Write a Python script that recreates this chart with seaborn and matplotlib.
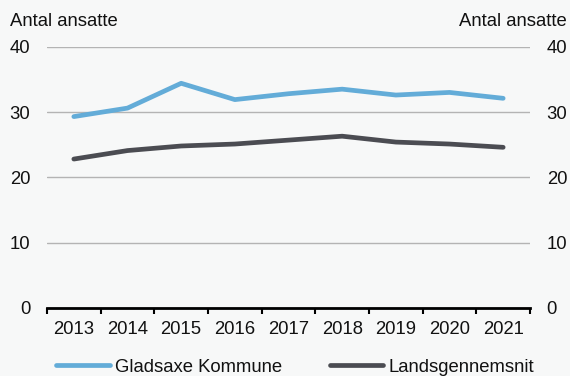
import numpy as np
import pandas as pd
import matplotlib
matplotlib.use("Agg")
import matplotlib.pyplot as plt
import seaborn as sns
from matplotlib.ticker import FixedLocator, FixedFormatter
from matplotlib.lines import Line2D

years = ["2013", "2014", "2015", "2016", "2017", "2018", "2019", "2020", "2021"]
gladsaxe = [29.3, 30.6, 34.4, 31.9, 32.8, 33.5, 32.6, 33.0, 32.1]
landsgennemsnit = [22.8, 24.1, 24.8, 25.1, 25.7, 26.3, 25.4, 25.1, 24.6]
series_names = ["Gladsaxe Kommune", "Landsgennemsnit"]
yticks = [0, 10, 20, 30, 40]
ylabel_text = "Antal ansatte"

colors = {"Gladsaxe Kommune": "#63acd8", "Landsgennemsnit": "#4b4c52"}
bg = "#f7f8f8"
FS = 13.3
LW = 3.4

sns.set_theme(style="white")
plt.rcParams["font.family"] = ["Liberation Sans", "DejaVu Sans"]
plt.rcParams["font.size"] = FS

df = pd.DataFrame({
    "pos": list(range(len(years))) * 2,
    "value": gladsaxe + landsgennemsnit,
    "series": [series_names[0]] * len(years) + [series_names[1]] * len(years),
})

fig = plt.figure(figsize=(5.7, 3.76), dpi=100, facecolor=bg)
ax = fig.add_axes([47 / 570, 1 - 308 / 376, (530 - 47) / 570, (308 - 46.7) / 376])
ax.set_facecolor(bg)

sns.lineplot(data=df, x="pos", y="value", hue="series", palette=colors,
             linewidth=LW, ax=ax, legend=False, solid_capstyle="round")

ax.set_xlim(-0.5, len(years) - 0.5)
ax.set_ylim(0, 40)
ax.set_yticks(yticks)
ax.set_yticklabels([str(t) for t in yticks])
ax.yaxis.grid(True, color="#b4b4b4", linewidth=1.0)
ax.set_axisbelow(True)
for s in ["left", "right", "top"]:
    ax.spines[s].set_visible(False)
ax.spines["bottom"].set_color("black")
ax.spines["bottom"].set_linewidth(2.0)
ax.spines["bottom"].set_zorder(5)

ax.xaxis.set_major_locator(FixedLocator(np.arange(-0.5, len(years), 1.0)))
ax.xaxis.set_major_formatter(FixedFormatter([""] * (len(years) + 1)))
ax.xaxis.set_minor_locator(FixedLocator(np.arange(len(years))))
ax.xaxis.set_minor_formatter(FixedFormatter(years))
ax.tick_params(axis="x", which="major", direction="out", length=4, width=1.5, color="black", bottom=True)
ax.tick_params(axis="x", which="minor", length=0, pad=9, labelsize=FS, labelcolor="#111111")
ax.tick_params(axis="y", length=0, pad=12, labelleft=True, labelright=True,
               labelsize=FS, labelcolor="#111111")
ax.set_xlabel("")
ax.set_ylabel("")

fig.text(10 / 570, 1 - 21 / 376, ylabel_text, ha="left", va="center", fontsize=FS, color="#111111")
fig.text(567 / 570, 1 - 21 / 376, ylabel_text, ha="right", va="center", fontsize=FS, color="#111111")

handles = [Line2D([0], [0], color=colors[n], linewidth=LW, solid_capstyle="round") for n in series_names]
fig.legend(handles, series_names, loc="center left", bbox_to_anchor=(56 / 570, 1 - 367 / 376),
           ncol=2, frameon=False, handlelength=2.9, handletextpad=0.27, columnspacing=2.6,
           fontsize=FS, borderaxespad=0, borderpad=0, labelcolor="#111111")

fig.savefig("out.png", dpi=100, facecolor=bg)
